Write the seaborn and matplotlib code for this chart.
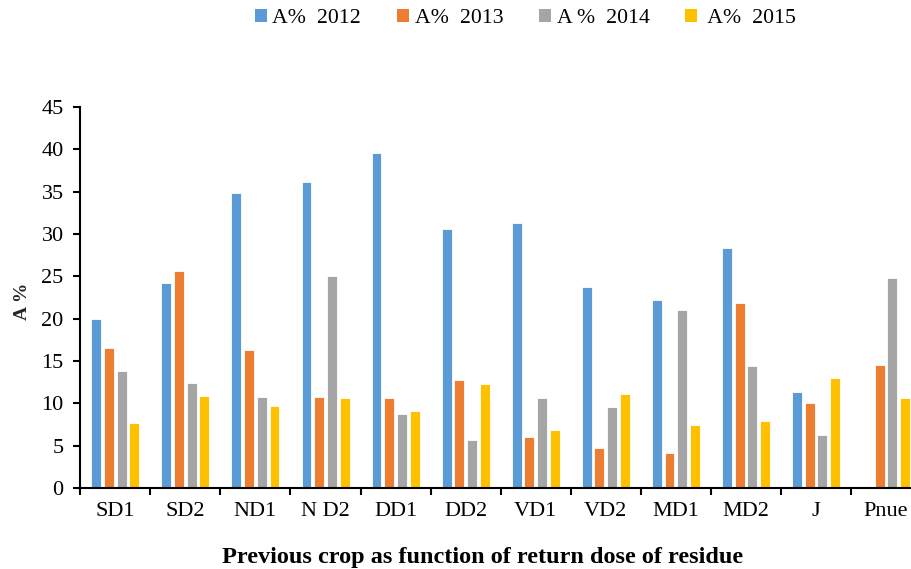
import numpy as np
import pandas as pd
import matplotlib
matplotlib.use('Agg')
import matplotlib.pyplot as plt
import seaborn as sns

# Dados
categorias = ['SD1', 'SD2', 'ND1', 'N D2', 'DD1', 'DD2', 'VD1', 'VD2', 'MD1', 'MD2', 'J', 'Pnue']
series = ['A%  2012', 'A%  2013', 'A %  2014', ' A%  2015']
a_2012 = [20.0, 24.2, 34.9, 36.1, 39.6, 30.6, 31.3, 23.8, 22.2, 28.3, 11.4, np.nan]
a_2013 = [16.5, 25.6, 16.3, 10.8, 10.6, 12.8, 6.0, 4.8, 4.1, 21.9, 10.1, 14.6]
a_2014 = [13.8, 12.4, 10.8, 25.1, 8.8, 5.7, 10.6, 9.6, 21.0, 14.4, 6.3, 24.8]
a_2015 = [7.7, 10.9, 9.7, 10.6, 9.1, 12.3, 6.9, 11.1, 7.5, 7.9, 13.0, 10.6]
cores = ['#5B9BD5', '#ED7D31', '#A5A5A5', '#FFC000']

df = pd.DataFrame({'crop': categorias * 4,
                   'serie': np.repeat(series, len(categorias)),
                   'valor': a_2012 + a_2013 + a_2014 + a_2015})

sns.set_style('white')
plt.rcParams['font.family'] = ['Liberation Serif', 'DejaVu Serif']
plt.rcParams['text.color'] = 'black'
plt.rcParams['xtick.color'] = 'black'
plt.rcParams['ytick.color'] = 'black'

fig = plt.figure(figsize=(9.12, 5.69), dpi=100)
ax = fig.add_axes([0.088, 0.142, 0.922, 0.670])

sns.barplot(data=df, x='crop', y='valor', hue='serie', hue_order=series,
            palette=cores, width=0.725, gap=0.22, edgecolor='white',
            linewidth=0.6, saturation=1, ax=ax, legend=True)

ax.set_ylim(0, 45)
ax.set_xlim(-0.5, len(categorias) - 0.5)
ax.set_yticks(range(0, 46, 5))
ax.set_xticks(np.arange(-0.5, len(categorias), 1.0), minor=True)
ax.tick_params(axis='x', which='major', length=0, labelsize=16, pad=10)
ax.tick_params(axis='x', which='minor', length=5, width=1.5, direction='out', bottom=True)
ax.tick_params(axis='y', length=5, width=1.5, direction='out', left=True, labelsize=16, pad=7)
for s in ['top', 'right']:
    ax.spines[s].set_visible(False)
for s in ['left', 'bottom']:
    ax.spines[s].set_linewidth(1.5)
    ax.spines[s].set_color('black')

ax.set_ylabel('A %', fontsize=14, fontweight='bold')
ax.yaxis.set_label_coords(-0.058, 0.49)
ax.set_xlabel('')
fig.text(0.529, 0.02, 'Previous crop as function of return dose of residue',
         ha='center', va='center', fontsize=17.5, fontweight='bold')

handles, labels = ax.get_legend_handles_labels()
for h in handles:
    h.set_edgecolor('none')
ax.get_legend().remove()
fig.legend(handles, labels, loc='center', bbox_to_anchor=(0.576, 0.967), ncol=4,
           frameon=False, fontsize=15.7, handlelength=0.55, handleheight=0.55,
           handletextpad=0.25, columnspacing=1.65)

plt.savefig('out.png', dpi=100)
